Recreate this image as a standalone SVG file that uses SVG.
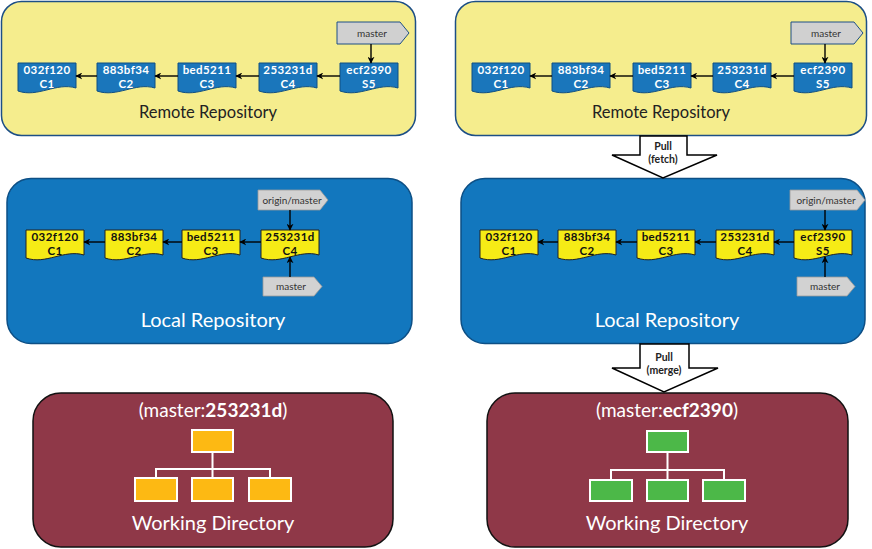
<svg xmlns="http://www.w3.org/2000/svg" width="872" height="549" viewBox="0 0 872 549">
<style>
.remote{fill:#f5ed8d;stroke:#1d4f86;stroke-width:1.5}
.local{fill:#1277be;stroke:#0d4f85;stroke-width:1.5}
.wd{fill:#8f3848;stroke:#111;stroke-width:1.5}
.cb{fill:#1a76bb;stroke:#0f4f82;stroke-width:1}
.cy{fill:#f6eb16;stroke:#222;stroke-width:1}
.ct{font-family:Lato,"Liberation Sans",sans-serif;font-size:11.5px;font-weight:bold;text-anchor:middle;letter-spacing:0.4px}
.ctw{fill:#fff}
.ctd{fill:#111}
.tag{fill:#d2d2d2;stroke:#999;stroke-width:0.8}
.tagr{fill:#d0d0d0;stroke:#1d4f86;stroke-width:1}
.tt{font-family:Lato,"Liberation Sans",sans-serif;font-size:10px;fill:#333;text-anchor:middle}
.title{font-family:Lato,"Liberation Sans",sans-serif;text-anchor:middle}
.conn{stroke:#000;stroke-width:1.4;fill:none;marker-end:url(#ah)}
.pull{fill:#fff;stroke:#000;stroke-width:1.5}
.pt{font-family:Lato,"Liberation Sans",sans-serif;font-size:10.5px;font-weight:bold;fill:#222;text-anchor:middle}
.tree{stroke:#fff;stroke-width:2}
.ln{stroke:#fff;stroke-width:2;fill:none}
</style>
<defs>
<marker id="ah" viewBox="0 0 10 10" refX="9" refY="5" markerWidth="7" markerHeight="7" markerUnits="userSpaceOnUse" orient="auto">
<path d="M0,0 L10,5 L0,10 L3,5 z" fill="#000"/>
</marker>
<path id="doc" d="M0,0 h58 v25 c-20,-6 -38,10 -58,3 z"/>
</defs>

<!-- containers -->
<g id="remote-left">
<rect class="remote" x="1.5" y="1.5" width="414" height="134" rx="20"/>
<text class="title" x="208" y="118" font-size="16.5" fill="#222">Remote Repository</text>
</g>
<g id="remote-right">
<rect class="remote" x="455.5" y="1.5" width="411" height="134" rx="20"/>
<text class="title" x="661" y="118" font-size="16.5" fill="#222">Remote Repository</text>
</g>
<g id="local-left">
<rect class="local" x="7" y="178.5" width="405" height="165" rx="24"/>
<text class="title" x="213" y="327" font-size="20" fill="#fff">Local Repository</text>
</g>
<g id="local-right">
<rect class="local" x="461" y="178.5" width="404" height="165" rx="24"/>
<text class="title" x="667" y="327" font-size="20" fill="#fff">Local Repository</text>
</g>
<g id="wd-left">
<rect class="wd" x="33" y="393" width="360" height="154" rx="28"/>
<text class="title" x="213" y="417" font-size="19" fill="#fff">(master:<tspan font-weight="bold">253231d</tspan>)</text>
<path class="ln" d="M212.5,452 V469 M156,478 V469 H270 V478 M212.5,469 V478"/>
<rect class="tree" x="192" y="430" width="41" height="22" fill="#fdb913"/>
<rect class="tree" x="135" y="478" width="42" height="23" fill="#fdb913"/>
<rect class="tree" x="192" y="478" width="41" height="23" fill="#fdb913"/>
<rect class="tree" x="249" y="478" width="42" height="23" fill="#fdb913"/>
<text class="title" x="213" y="530" font-size="20" fill="#fff">Working Directory</text>
</g>
<g id="wd-right">
<rect class="wd" x="487" y="393" width="361" height="154" rx="28"/>
<text class="title" x="667" y="417" font-size="19" fill="#fff">(master:<tspan font-weight="bold">ecf2390</tspan>)</text>
<path class="ln" d="M667.5,452 V470 M611,480 V470 H724 V480 M667.5,470 V480"/>
<rect class="tree" x="647" y="431" width="41" height="21" fill="#4cb848"/>
<rect class="tree" x="590" y="480" width="42" height="21" fill="#4cb848"/>
<rect class="tree" x="647" y="480" width="41" height="21" fill="#4cb848"/>
<rect class="tree" x="703" y="480" width="42" height="21" fill="#4cb848"/>
<text class="title" x="667" y="530" font-size="20" fill="#fff">Working Directory</text>
</g>

<!-- remote left commits -->
<g id="rl-c1"><use href="#doc" class="cb" x="18" y="63"/><text class="ct ctw" x="47" y="74">032f120</text><text class="ct ctw" x="47" y="88">C1</text></g>
<g id="rl-c2"><use href="#doc" class="cb" x="97" y="63"/><text class="ct ctw" x="126" y="74">883bf34</text><text class="ct ctw" x="126" y="88">C2</text></g>
<g id="rl-c3"><use href="#doc" class="cb" x="178" y="63"/><text class="ct ctw" x="207" y="74">bed5211</text><text class="ct ctw" x="207" y="88">C3</text></g>
<g id="rl-c4"><use href="#doc" class="cb" x="259" y="63"/><text class="ct ctw" x="288" y="74">253231d</text><text class="ct ctw" x="288" y="88">C4</text></g>
<g id="rl-s5"><use href="#doc" class="cb" x="340" y="63"/><text class="ct ctw" x="369" y="74">ecf2390</text><text class="ct ctw" x="369" y="88">S5</text></g>
<g id="rl-master"><path class="tagr" d="M337,22 H400 L409,33 L400,44 H337 Z"/><text class="tt" x="372" y="37">master</text></g>

<!-- remote right commits -->
<g id="rr-c1"><use href="#doc" class="cb" x="472" y="63"/><text class="ct ctw" x="501" y="74">032f120</text><text class="ct ctw" x="501" y="88">C1</text></g>
<g id="rr-c2"><use href="#doc" class="cb" x="552" y="63"/><text class="ct ctw" x="581" y="74">883bf34</text><text class="ct ctw" x="581" y="88">C2</text></g>
<g id="rr-c3"><use href="#doc" class="cb" x="633" y="63"/><text class="ct ctw" x="662" y="74">bed5211</text><text class="ct ctw" x="662" y="88">C3</text></g>
<g id="rr-c4"><use href="#doc" class="cb" x="713" y="63"/><text class="ct ctw" x="742" y="74">253231d</text><text class="ct ctw" x="742" y="88">C4</text></g>
<g id="rr-s5"><use href="#doc" class="cb" x="794" y="63"/><text class="ct ctw" x="823" y="74">ecf2390</text><text class="ct ctw" x="823" y="88">S5</text></g>
<g id="rr-master"><path class="tagr" d="M791,22 H854 L863,33 L854,44 H791 Z"/><text class="tt" x="826" y="37">master</text></g>

<!-- local left commits -->
<g id="ll-c1"><use href="#doc" class="cy" x="26" y="230"/><text class="ct ctd" x="55" y="241">032f120</text><text class="ct ctd" x="55" y="255">C1</text></g>
<g id="ll-c2"><use href="#doc" class="cy" x="105" y="230"/><text class="ct ctd" x="134" y="241">883bf34</text><text class="ct ctd" x="134" y="255">C2</text></g>
<g id="ll-c3"><use href="#doc" class="cy" x="182" y="230"/><text class="ct ctd" x="211" y="241">bed5211</text><text class="ct ctd" x="211" y="255">C3</text></g>
<g id="ll-c4"><use href="#doc" class="cy" x="261" y="230"/><text class="ct ctd" x="290" y="241">253231d</text><text class="ct ctd" x="290" y="255">C4</text></g>
<g id="ll-origin"><path class="tag" d="M258,190 H320 L328,200 L320,210 H258 Z"/><text class="tt" x="292" y="203.5">origin/master</text></g>
<g id="ll-master"><path class="tag" d="M263,277 H314 L322,286.5 L314,296 H263 Z"/><text class="tt" x="291" y="290">master</text></g>

<!-- local right commits -->
<g id="lr-c1"><use href="#doc" class="cy" x="480" y="230"/><text class="ct ctd" x="509" y="241">032f120</text><text class="ct ctd" x="509" y="255">C1</text></g>
<g id="lr-c2"><use href="#doc" class="cy" x="558" y="230"/><text class="ct ctd" x="587" y="241">883bf34</text><text class="ct ctd" x="587" y="255">C2</text></g>
<g id="lr-c3"><use href="#doc" class="cy" x="637" y="230"/><text class="ct ctd" x="666" y="241">bed5211</text><text class="ct ctd" x="666" y="255">C3</text></g>
<g id="lr-c4"><use href="#doc" class="cy" x="716" y="230"/><text class="ct ctd" x="745" y="241">253231d</text><text class="ct ctd" x="745" y="255">C4</text></g>
<g id="lr-s5"><use href="#doc" class="cy" x="794" y="230"/><text class="ct ctd" x="823" y="241">ecf2390</text><text class="ct ctd" x="823" y="255">S5</text></g>
<g id="lr-origin"><path class="tag" d="M790,190 H857 L865,200 L857,210 H790 Z"/><text class="tt" x="826" y="203.5">origin/master</text></g>
<g id="lr-master"><path class="tag" d="M797,277 H847 L855,286.5 L847,296 H797 Z"/><text class="tt" x="825" y="290">master</text></g>

<!-- pull arrows -->
<g id="pull-fetch">
<path class="pull" d="M640,136 H687 V155 H717 L663,178 L612,155 H640 Z"/>
<text class="pt" x="663" y="150">Pull</text>
<text class="pt" x="663" y="163">(fetch)</text>
</g>
<g id="pull-merge">
<path class="pull" d="M640,344 H689 V368 H718 L664,392 L612,368 H640 Z"/>
<text class="pt" x="664" y="361">Pull</text>
<text class="pt" x="664" y="374">(merge)</text>
</g>

<!-- connectors -->
<g id="connectors">
<line class="conn" x1="97" y1="76" x2="76" y2="76"/>
<line class="conn" x1="178" y1="76" x2="155" y2="76"/>
<line class="conn" x1="259" y1="76" x2="236" y2="76"/>
<line class="conn" x1="340" y1="76" x2="317" y2="76"/>
<line class="conn" x1="371" y1="44" x2="371" y2="63"/>

<line class="conn" x1="552" y1="76" x2="530" y2="76"/>
<line class="conn" x1="633" y1="76" x2="610" y2="76"/>
<line class="conn" x1="713" y1="76" x2="691" y2="76"/>
<line class="conn" x1="794" y1="76" x2="771" y2="76"/>
<line class="conn" x1="825" y1="44" x2="825" y2="63"/>

<line class="conn" x1="105" y1="242" x2="84" y2="242"/>
<line class="conn" x1="182" y1="242" x2="163" y2="242"/>
<line class="conn" x1="261" y1="242" x2="240" y2="242"/>
<line class="conn" x1="290" y1="210" x2="290" y2="230"/>
<line class="conn" x1="290" y1="277" x2="290" y2="257"/>

<line class="conn" x1="558" y1="242" x2="538" y2="242"/>
<line class="conn" x1="637" y1="242" x2="616" y2="242"/>
<line class="conn" x1="716" y1="242" x2="695" y2="242"/>
<line class="conn" x1="794" y1="242" x2="774" y2="242"/>
<line class="conn" x1="825" y1="210" x2="825" y2="230"/>
<line class="conn" x1="825" y1="277" x2="825" y2="257"/>
</g>
</svg>
